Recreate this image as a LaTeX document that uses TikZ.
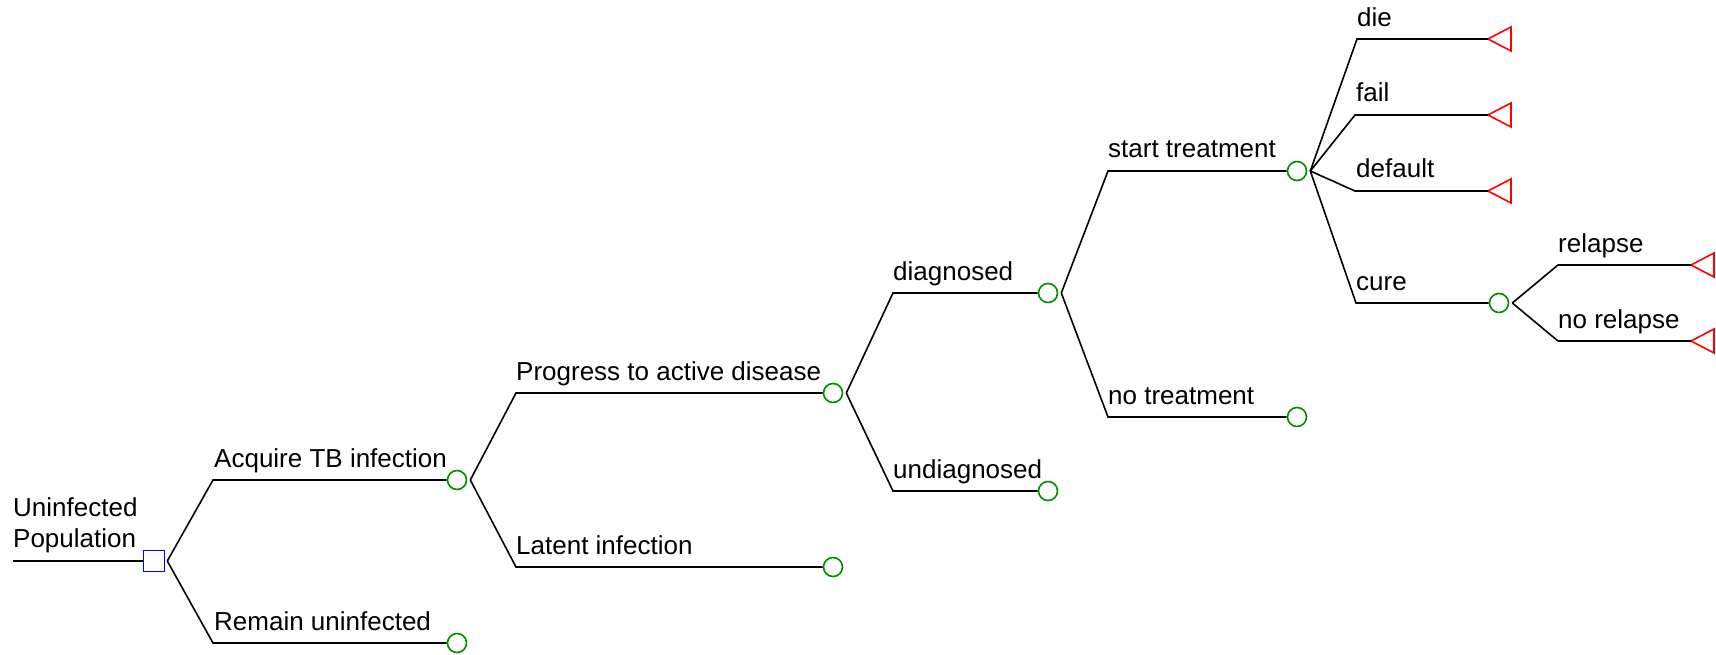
\documentclass[tikz,border=0pt]{standalone}
\usepackage{fontspec}
\setmainfont{Liberation Sans}
\begin{document}
\begin{tikzpicture}[x=1pt,y=-1pt,
 br/.style={draw=black,line width=1.6pt},
 chance/.style={circle,draw=green!55!black,line width=1.6pt,minimum size=19pt,inner sep=0pt},
 decision/.style={rectangle,draw=blue,line width=1.6pt,minimum size=21pt,inner sep=0pt},
 term/.style={draw=red,line width=1.6pt,line join=miter},
 lbl/.style={anchor=base west,inner sep=0pt,font=\fontsize{26}{30}\selectfont}]
\useasboundingbox (0,0) rectangle (1716,655);
% nodes
\coordinate (start) at (13,561);
\node[decision] (d0) at (154,561) {};
\node[chance] (c1) at (457,480) {};
\node[chance] (c2) at (457,643) {};
\node[chance] (c3) at (833,393) {};
\node[chance] (c4) at (833,567) {};
\node[chance] (c5) at (1048,293) {};
\node[chance] (c6) at (1048,491) {};
\node[chance] (c7) at (1297,171) {};
\node[chance] (c8) at (1297,417) {};
\node[chance] (c9) at (1499,303) {};
\coordinate (tdie) at (1488,39);
\coordinate (tfail) at (1488,115);
\coordinate (tdef) at (1488,191);
\coordinate (trel) at (1691,265);
\coordinate (tnorel) at (1691,341);
\foreach \t in {tdie,tfail,tdef,trel,tnorel}
  \draw[term] (\t) -- ++(23,-12) -- ++(0,24) -- cycle;
% fork points
\coordinate (f0) at ([xshift=2pt]d0.east);
\coordinate (f1) at ([xshift=3pt]c1.east);
\coordinate (f3) at ([xshift=3pt]c3.east);
\coordinate (f5) at ([xshift=3pt]c5.east);
\coordinate (f7) at ([xshift=3pt]c7.east);
\coordinate (f9) at ([xshift=3pt]c9.east);
% corners
\coordinate (k1) at (213,480);
\coordinate (k2) at (213,643);
\coordinate (k3) at (516,393);
\coordinate (k4) at (516,567);
\coordinate (k5) at (893,293);
\coordinate (k6) at (893,491);
\coordinate (k7) at (1108,171);
\coordinate (k8) at (1108,417);
\coordinate (kdie) at (1357,39);
\coordinate (kfail) at (1355,115);
\coordinate (kdef) at (1355,191);
\coordinate (kcure) at (1356,303);
\coordinate (krel) at (1558,265);
\coordinate (knorel) at (1558,341);
% connectors
\draw[br] (start) -- (d0.west);
\draw[br] (f0) -- (k1) -- (c1.west);
\draw[br] (f0) -- (k2) -- (c2.west);
\draw[br] (f1) -- (k3) -- (c3.west);
\draw[br] (f1) -- (k4) -- (c4.west);
\draw[br] (f3) -- (k5) -- (c5.west);
\draw[br] (f3) -- (k6) -- (c6.west);
\draw[br] (f5) -- (k7) -- (c7.west);
\draw[br] (f5) -- (k8) -- (c8.west);
\draw[br] (f7) -- (kdie) -- (tdie);
\draw[br] (f7) -- (kfail) -- (tfail);
\draw[br] (f7) -- (kdef) -- (tdef);
\draw[br] (f7) -- (kcure) -- (c9.west);
\draw[br] (f9) -- (krel) -- (trel);
\draw[br] (f9) -- (knorel) -- (tnorel);
% labels
\node[lbl] (l0a) at (13,516) {Uninfected};
\node[lbl] (l0b) at (13,547) {Population};
\node[lbl] (l1) at (214,467) {Acquire TB infection};
\node[lbl] (l2) at (214,630) {Remain uninfected};
\node[lbl] (l3) at (516,380) {Progress to active disease};
\node[lbl] (l4) at (516,554) {Latent infection};
\node[lbl] (l5) at (893,280) {diagnosed};
\node[lbl] (l6) at (893,478) {undiagnosed};
\node[lbl] (l7) at (1108,158) {start treatment};
\node[lbl] (l8) at (1108,404) {no treatment};
\node[lbl] (l9) at (1357,27) {die};
\node[lbl] (l10) at (1356,102) {fail};
\node[lbl] (l11) at (1356,178) {default};
\node[lbl] (l12) at (1356,290) {cure};
\node[lbl] (l13) at (1558,252) {relapse};
\node[lbl] (l14) at (1558,328) {no relapse};
\end{tikzpicture}
\end{document}
